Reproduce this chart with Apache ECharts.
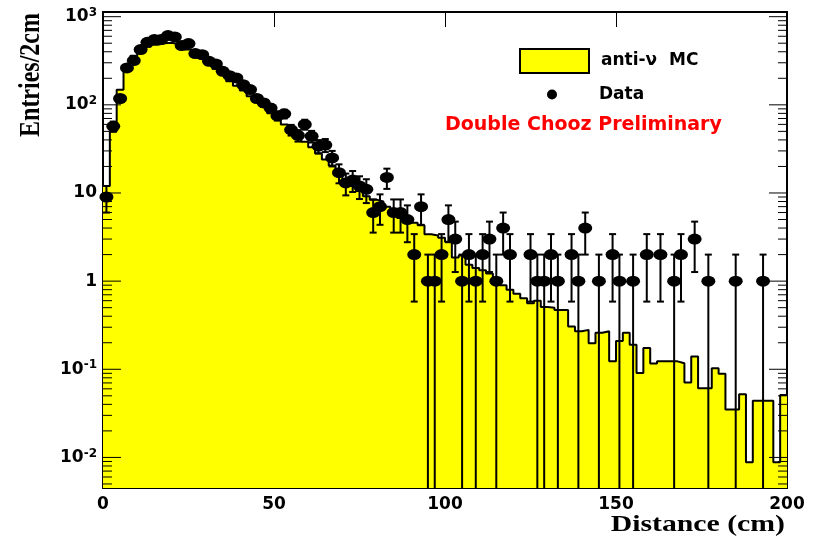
<!DOCTYPE html>
<html>
<head>
<meta charset="utf-8">
<script src="https://cdn.jsdelivr.net/npm/echarts@6/dist/echarts.min.js"></script>
<style>
  html, body { margin: 0; padding: 0; background: #fff; }
  #main { width: 817px; height: 542px; }
</style>
</head>
<body>
<div id="main"></div>
<script>
// anti-nu MC, entries per 2 cm bin (0..200 cm)
const mcCounts = [
  12, 50, 148, 280, 360, 420, 455, 480, 500, 505,
  490, 460, 425, 385, 335, 292, 255, 220, 185, 165,
  145, 125, 108, 95, 80, 68, 60, 52, 44, 38,
  33, 28, 24, 20.5, 18, 13, 12, 10.5, 9.2, 8.4,
  8, 7, 6, 5.2, 5, 4.6, 4.3, 3.4, 3.3, 3.1,
  2.8, 1.85, 1.95, 1.53, 1.41, 1.33, 1.22, 1.08, 0.9, 0.8,
  0.72, 0.64, 0.56, 0.6, 0.51, 0.5, 0.47, 0.47, 0.306, 0.27,
  0.28, 0.198, 0.26, 0.27, 0.123, 0.21, 0.26, 0.19, 0.091, 0.174,
  0.116, 0.123, 0.123, 0.123, 0.117, 0.071, 0.14, 0.061, 0.061, 0.103,
  0.089, 0.035, 0.035, 0.052, 0.0088, 0.044, 0.044, 0.044, 0.0088, 0.051
];
// Data, entries per 2 cm bin (0 = empty bin)
const dataCounts = [
  9, 57, 118, 262, 318, 424, 512, 550, 550, 610,
  590, 470, 495, 381, 371, 312, 291, 240, 214, 202,
  169, 149, 118, 105, 92, 75, 79, 52, 45, 60,
  44, 34, 35, 25, 17, 13, 14, 12, 11, 6,
  7, 15, 6, 6, 5, 2, 7, 1, 1, 2,
  5, 3, 1, 2, 1, 2, 3, 1, 4, 2,
  0, 0, 2, 1, 1, 2, 1, 0, 2, 1,
  4, 0, 1, 0, 2, 1, 0, 1, 0, 2,
  0, 2, 0, 1, 2, 0, 3, 0, 1, 0,
  0, 0, 1, 0, 0, 0, 1, 0, 0, 0
];
const binWidth = 2;
const xMax = 200;
const xTicks = [0, 50, 100, 150, 200];
const yDecades = [0.01, 0.1, 1, 10, 100, 1000];
const yMin = 0.0045, yMax = 1130;

const font = 'DejaVu Sans';

// histogram outline: left edge of each bin, closed at x = 200
const mcLine = mcCounts.map((v, i) => [i * binWidth, v]);
mcLine.push([xMax, mcCounts[mcCounts.length - 1]]);

const dataPts = [];
dataCounts.forEach((n, i) => { if (n > 0) dataPts.push([i * binWidth + binWidth / 2, n]); });

// ROOT-like log ticks on both sides of the frame
const tickData = [];
for (let k = -3; k <= 3; k++) {
  for (let m = 1; m <= 9; m++) {
    const v = m * Math.pow(10, k);
    if (v >= yMin && v <= yMax) tickData.push([0, v, m === 1 ? 18 : 9]);
  }
}

function yLabel(v) {
  const lg = Math.log10(v);
  const p = Math.round(lg);
  if (Math.abs(lg - p) > 1e-6) return '';
  if (p === 0) return '{b|1}';
  if (p === 1) return '{b|10}';
  return '{b|10}{s|' + p + '}';
}

const chart = echarts.init(document.getElementById('main'));
chart.setOption({
  animation: false,
  backgroundColor: '#fff',
  grid: { left: 103, right: 30, top: 12, bottom: 54, show: true, borderColor: '#000', borderWidth: 2, backgroundColor: '#fff' },
  title: {
    text: 'Double Chooz Preliminary', left: 445, top: 116, padding: 0,
    textStyle: { color: '#ff0000', fontFamily: font, fontWeight: 'bold', fontSize: 19 }
  },
  legend: [
    {
      left: 519, top: 48, itemWidth: 69, itemHeight: 24, icon: 'rect', padding: 0,
      data: ['anti-ν  MC'],
      itemStyle: { color: '#ffff00', borderColor: '#000', borderWidth: 2 },
      textStyle: { fontFamily: font, fontWeight: 'bold', fontSize: 17, color: '#000', padding: [0, 0, 0, 7] }
    },
    {
      left: 547, top: 86, itemWidth: 12, itemHeight: 10, icon: 'circle', padding: 0, symbolKeepAspect: false,
      data: ['Data'],
      itemStyle: { color: '#000', opacity: 1 },
      textStyle: { fontFamily: font, fontWeight: 'bold', fontSize: 17, color: '#000', padding: [0, 0, 0, 36] }
    }
  ],
  xAxis: [
    {
      type: 'value', min: 0, max: xMax, interval: 50, position: 'bottom',
      axisLine: { lineStyle: { color: '#000', width: 2 } },
      axisTick: { inside: true, length: 15, lineStyle: { color: '#000', width: 1 } },
      axisLabel: { margin: 8, fontFamily: font, fontWeight: 'bold', fontSize: 17, color: '#000' },
      splitLine: { show: false }
    },
    {
      type: 'value', min: 0, max: xMax, interval: 50, position: 'top',
      axisLine: { lineStyle: { color: '#000', width: 2 } },
      axisTick: { inside: true, length: 15, lineStyle: { color: '#000', width: 1 } },
      axisLabel: { show: false },
      splitLine: { show: false }
    }
  ],
  yAxis: {
    type: 'log', logBase: 10, min: yMin, max: yMax,
    axisLine: { show: true, lineStyle: { color: '#000', width: 2 } },
    axisTick: { show: false },
    splitLine: { show: false },
    axisLabel: {
      margin: 6, color: '#000', formatter: yLabel,
      rich: {
        b: { fontFamily: font, fontWeight: 'bold', fontSize: 17, color: '#000' },
        s: { fontFamily: font, fontWeight: 'bold', fontSize: 12, color: '#000', verticalAlign: 'top', padding: [0, 0, 8, 0] }
      }
    }
  },
  graphic: [
    {
      type: 'text', x: 785, y: 537, scaleX: 1.24,
      style: { text: 'Distance (cm)', font: 'bold 24px "Liberation Serif"', align: 'right', verticalAlign: 'bottom', fill: '#000' }
    },
    {
      type: 'text', x: 31, y: 13, rotation: Math.PI / 2, scaleY: 1.24,
      style: { text: 'Entries/2cm', font: 'bold 24px "Liberation Serif"', align: 'right', verticalAlign: 'middle', fill: '#000' }
    }
  ],
  series: [
    {
      name: 'anti-ν  MC', type: 'line', step: 'end', symbol: 'none', z: 1,
      data: mcLine,
      itemStyle: { color: '#ffff00' },
      lineStyle: { color: '#000', width: 2 },
      areaStyle: { color: '#ffff00', opacity: 1, origin: 'start' }
    },
    {
      name: 'errors', type: 'custom', z: 3, silent: true,
      data: dataPts,
      renderItem: function (params, api) {
        const x = api.value(0), n = api.value(1), e = Math.sqrt(n);
        const cs = params.coordSys;
        const hi = api.coord([x, n + e]);
        const loV = n - e;
        const lo = loV > yMin ? api.coord([x, loV]) : [hi[0], cs.y + cs.height];
        const st = { stroke: '#000', lineWidth: 2 };
        const ch = [
          { type: 'line', shape: { x1: hi[0], y1: hi[1], x2: lo[0], y2: lo[1] }, style: st },
          { type: 'line', shape: { x1: hi[0] - 3.5, y1: hi[1], x2: hi[0] + 3.5, y2: hi[1] }, style: st }
        ];
        if (loV > yMin) ch.push({ type: 'line', shape: { x1: lo[0] - 3.5, y1: lo[1], x2: lo[0] + 3.5, y2: lo[1] }, style: st });
        return { type: 'group', children: ch };
      }
    },
    {
      name: 'Data', type: 'scatter', z: 4,
      data: dataPts, symbol: 'circle', symbolSize: [14, 11],
      itemStyle: { color: '#000', opacity: 1 }
    },
    {
      name: 'ticks', type: 'custom', z: 10, silent: true,
      data: tickData,
      renderItem: function (params, api) {
        const v = api.value(1), len = api.value(2);
        const l = api.coord([0, v]), r = api.coord([xMax, v]);
        const st = { stroke: '#000', lineWidth: 1 };
        return {
          type: 'group', children: [
            { type: 'line', shape: { x1: l[0], y1: l[1], x2: l[0] + len, y2: l[1] }, style: st },
            { type: 'line', shape: { x1: r[0], y1: r[1], x2: r[0] - len, y2: r[1] }, style: st }
          ]
        };
      }
    }
  ]
});
</script>
</body>
</html>
